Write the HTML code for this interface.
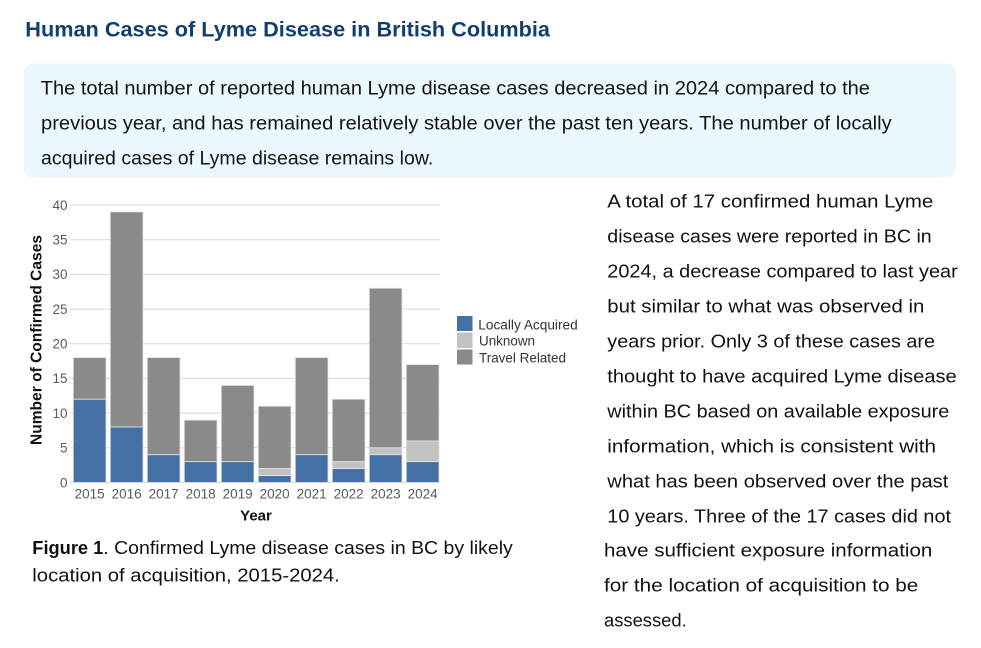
<!DOCTYPE html>
<html><head><meta charset="utf-8"><style>
html,body{margin:0;padding:0;background:#fff;width:981px;height:648px;overflow:hidden}
svg{display:block}
text{font-family:"Liberation Sans",Arial,sans-serif}
</style></head><body>
<svg width="981" height="648" viewBox="0 0 981 648" xmlns="http://www.w3.org/2000/svg">
<text x="25.3" y="36.7" font-size="21" font-weight="bold" fill="#0f3f70" textLength="524.7" lengthAdjust="spacingAndGlyphs">Human Cases of Lyme Disease in British Columbia</text>
<rect x="24" y="63.5" width="932" height="114" rx="9" ry="9" fill="#eaf8fd"/>
<g font-size="19" fill="#141414">
<text x="40.7" y="94.3" textLength="829.3" lengthAdjust="spacingAndGlyphs">The total number of reported human Lyme disease cases decreased in 2024 compared to the</text>
<text x="41" y="129.5" textLength="850.7" lengthAdjust="spacingAndGlyphs">previous year, and has remained relatively stable over the past ten years. The number of locally</text>
<text x="41" y="164.5" textLength="392.3" lengthAdjust="spacingAndGlyphs">acquired cases of Lyme disease remains low.</text>
</g>
<!-- chart gridlines -->
<g stroke="#d9d9d9" stroke-width="1">
<line x1="70" x2="440" y1="205" y2="205"/>
<line x1="70" x2="440" y1="239.7" y2="239.7"/>
<line x1="70" x2="440" y1="274.4" y2="274.4"/>
<line x1="70" x2="440" y1="309.1" y2="309.1"/>
<line x1="70" x2="440" y1="343.75" y2="343.75"/>
<line x1="70" x2="440" y1="378.4" y2="378.4"/>
<line x1="70" x2="440" y1="413.1" y2="413.1"/>
<line x1="70" x2="440" y1="447.8" y2="447.8"/>
<line x1="70" x2="440" y1="482.5" y2="482.5"/>
</g>
<g font-size="13.5" fill="#595959" text-anchor="end">
<text x="67.5" y="209.8">40</text>
<text x="67.5" y="244.5">35</text>
<text x="67.5" y="279.2">30</text>
<text x="67.5" y="313.9">25</text>
<text x="67.5" y="348.6">20</text>
<text x="67.5" y="383.2">15</text>
<text x="67.5" y="417.9">10</text>
<text x="67.5" y="452.6">5</text>
<text x="67.5" y="487.3">0</text>
</g>
<!-- bars: y = 482.5 - v*6.9375 -->
<g stroke="#e4e4e4" stroke-width="0.8">
<!-- 2015: 12,0,6 -->
<rect x="73.3" y="357.6" width="32.7" height="41.6" fill="#8a8a8a"/>
<rect x="73.3" y="399.25" width="32.7" height="83.25" fill="#4470a6"/>
<!-- 2016: 8,0,31 -->
<rect x="110.3" y="211.9" width="32.7" height="215.1" fill="#8a8a8a"/>
<rect x="110.3" y="427" width="32.7" height="55.5" fill="#4470a6"/>
<!-- 2017: 4,0,14 -->
<rect x="147.3" y="357.6" width="32.7" height="97.1" fill="#8a8a8a"/>
<rect x="147.3" y="454.75" width="32.7" height="27.75" fill="#4470a6"/>
<!-- 2018: 3,0,6 -->
<rect x="184.3" y="420.1" width="32.7" height="41.6" fill="#8a8a8a"/>
<rect x="184.3" y="461.7" width="32.7" height="20.8" fill="#4470a6"/>
<!-- 2019: 3,0,11 -->
<rect x="221.3" y="385.4" width="32.7" height="76.3" fill="#8a8a8a"/>
<rect x="221.3" y="461.7" width="32.7" height="20.8" fill="#4470a6"/>
<!-- 2020: 1,1,9 -->
<rect x="258.3" y="406.2" width="32.7" height="62.4" fill="#8a8a8a"/>
<rect x="258.3" y="468.6" width="32.7" height="6.9" fill="#c2c2c2"/>
<rect x="258.3" y="475.6" width="32.7" height="6.9" fill="#4470a6"/>
<!-- 2021: 4,0,14 -->
<rect x="295.3" y="357.6" width="32.7" height="97.1" fill="#8a8a8a"/>
<rect x="295.3" y="454.75" width="32.7" height="27.75" fill="#4470a6"/>
<!-- 2022: 2,1,9 -->
<rect x="332.3" y="399.25" width="32.7" height="62.45" fill="#8a8a8a"/>
<rect x="332.3" y="461.7" width="32.7" height="6.9" fill="#c2c2c2"/>
<rect x="332.3" y="468.6" width="32.7" height="13.9" fill="#4470a6"/>
<!-- 2023: 4,1,23 -->
<rect x="369.3" y="288.25" width="32.7" height="159.6" fill="#8a8a8a"/>
<rect x="369.3" y="447.8" width="32.7" height="6.9" fill="#c2c2c2"/>
<rect x="369.3" y="454.75" width="32.7" height="27.75" fill="#4470a6"/>
<!-- 2024: 3,3,11 -->
<rect x="406.3" y="364.6" width="32.7" height="76.3" fill="#8a8a8a"/>
<rect x="406.3" y="440.9" width="32.7" height="20.8" fill="#c2c2c2"/>
<rect x="406.3" y="461.7" width="32.7" height="20.8" fill="#4470a6"/>
</g>
<g font-size="13.5" fill="#595959" text-anchor="middle">
<text x="89.6" y="498.3">2015</text>
<text x="126.6" y="498.3">2016</text>
<text x="163.6" y="498.3">2017</text>
<text x="200.6" y="498.3">2018</text>
<text x="237.6" y="498.3">2019</text>
<text x="274.6" y="498.3">2020</text>
<text x="311.6" y="498.3">2021</text>
<text x="348.6" y="498.3">2022</text>
<text x="385.6" y="498.3">2023</text>
<text x="422.6" y="498.3">2024</text>
</g>
<text x="256" y="520.7" font-size="15" font-weight="bold" fill="#111" text-anchor="middle">Year</text>
<text transform="translate(41.5,340) rotate(-90)" x="0" y="0" font-size="15.5" font-weight="bold" fill="#111" text-anchor="middle" textLength="210" lengthAdjust="spacingAndGlyphs">Number of Confirmed Cases</text>
<!-- legend -->
<rect x="457" y="316" width="15.5" height="15" fill="#4470a6"/>
<rect x="457" y="332.5" width="15.5" height="15.5" fill="#c2c2c2"/>
<rect x="457" y="349.5" width="15.5" height="15" fill="#8a8a8a"/>
<g font-size="13.5" fill="#333">
<text x="478.3" y="329.3" textLength="99.4" lengthAdjust="spacingAndGlyphs">Locally Acquired</text>
<text x="479" y="345.7" textLength="56" lengthAdjust="spacingAndGlyphs">Unknown</text>
<text x="479" y="362.7" textLength="87" lengthAdjust="spacingAndGlyphs">Travel Related</text>
</g>
<!-- caption -->
<g font-size="18" fill="#111">
<text x="32.3" y="554" font-weight="bold" textLength="71" lengthAdjust="spacingAndGlyphs">Figure 1</text>
<text x="103.3" y="554" textLength="409.5" lengthAdjust="spacingAndGlyphs">. Confirmed Lyme disease cases in BC by likely</text>
<text x="32.3" y="581.7" textLength="307.5" lengthAdjust="spacingAndGlyphs">location of acquisition, 2015-2024.</text>
</g>
<!-- right paragraph -->
<g font-size="18.7" fill="#111">
<text x="607.3" y="207.7" textLength="326" lengthAdjust="spacingAndGlyphs">A total of 17 confirmed human Lyme</text>
<text x="607.3" y="242.7" textLength="324.4" lengthAdjust="spacingAndGlyphs">disease cases were reported in BC in</text>
<text x="607.3" y="277.7" textLength="350.4" lengthAdjust="spacingAndGlyphs">2024, a decrease compared to last year</text>
<text x="607.3" y="312.7" textLength="317" lengthAdjust="spacingAndGlyphs">but similar to what was observed in</text>
<text x="607.3" y="347.7" textLength="327.7" lengthAdjust="spacingAndGlyphs">years prior. Only 3 of these cases are</text>
<text x="607.3" y="382.7" textLength="349.4" lengthAdjust="spacingAndGlyphs">thought to have acquired Lyme disease</text>
<text x="607.3" y="417.5" textLength="342" lengthAdjust="spacingAndGlyphs">within BC based on available exposure</text>
<text x="607.3" y="452.4" textLength="328.7" lengthAdjust="spacingAndGlyphs">information, which is consistent with</text>
<text x="607.3" y="487.4" textLength="341" lengthAdjust="spacingAndGlyphs">what has been observed over the past</text>
<text x="607.3" y="522.3" textLength="343.7" lengthAdjust="spacingAndGlyphs">10 years. Three of the 17 cases did not</text>
<text x="604" y="556.7" textLength="328.3" lengthAdjust="spacingAndGlyphs">have sufficient exposure information</text>
<text x="604" y="591.7" textLength="314.3" lengthAdjust="spacingAndGlyphs">for the location of acquisition to be</text>
<text x="604" y="626.7" textLength="82.7" lengthAdjust="spacingAndGlyphs">assessed.</text>
</g>
</svg>
</body></html>
